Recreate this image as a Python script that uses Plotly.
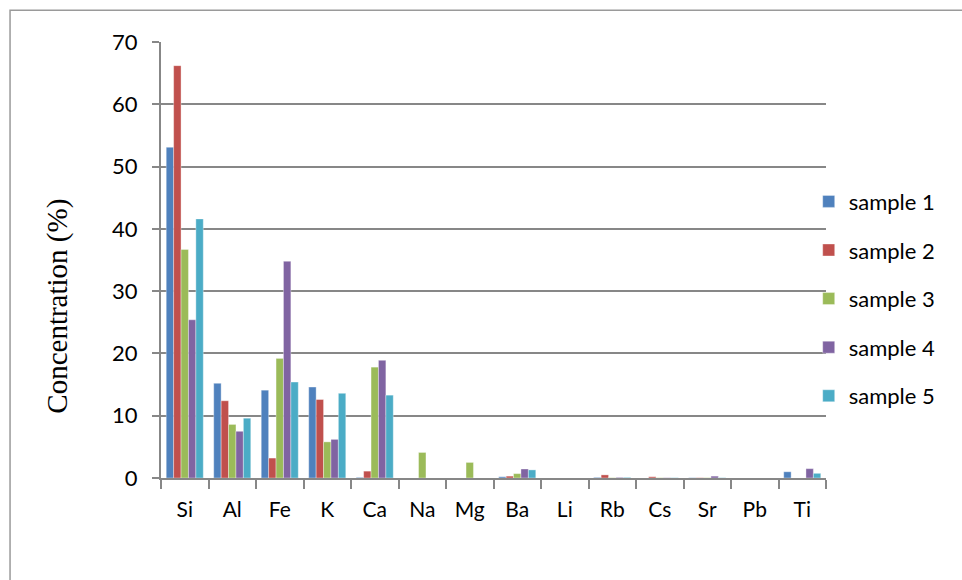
import plotly.graph_objects as go

# Element concentrations (%) per sample
elements = ["Si", "Al", "Fe", "K", "Ca", "Na", "Mg", "Ba", "Li", "Rb", "Cs", "Sr", "Pb", "Ti"]
sample_1 = [53.1, 15.2, 14.1, 14.6, 0.1, 0.0, 0.0, 0.2, 0.0, 0.1, 0.0, 0.05, 0.0, 1.0]
sample_2 = [66.2, 12.4, 3.2, 12.6, 1.1, 0.0, 0.0, 0.3, 0.0, 0.5, 0.2, 0.05, 0.0, 0.0]
sample_3 = [36.7, 8.6, 19.2, 5.8, 17.8, 4.1, 2.5, 0.7, 0.0, 0.05, 0.05, 0.05, 0.0, 0.0]
sample_4 = [25.4, 7.5, 34.8, 6.2, 18.9, 0.0, 0.0, 1.45, 0.0, 0.1, 0.05, 0.3, 0.0, 1.5]
sample_5 = [41.6, 9.6, 15.4, 13.6, 13.3, 0.0, 0.0, 1.3, 0.0, 0.1, 0.05, 0.05, 0.0, 0.75]

series_names = ["sample 1", "sample 2", "sample 3", "sample 4", "sample 5"]
series_values = [sample_1, sample_2, sample_3, sample_4, sample_5]
series_colors = ["#4F81BD", "#C0504D", "#9BBB59", "#8064A2", "#4BACC6"]

y_ticks = [0, 10, 20, 30, 40, 50, 60, 70]

fig = go.Figure()
for i, (name, vals, col) in enumerate(zip(series_names, series_values, series_colors)):
    fig.add_trace(go.Bar(
        x=elements, y=vals, name=name,
        marker=dict(color=col, line=dict(color="rgba(255,255,255,0.6)", width=0.6)),
        legendgroup=f"g{i}",
    ))

grid_col = "#878787"
font_sans = "Lato, 'Open Sans', sans-serif"

fig.update_layout(
    width=962, height=580,
    margin=dict(l=161, r=136, t=42, b=102),
    paper_bgcolor="white", plot_bgcolor="rgba(0,0,0,0)",
    barmode="group", bargap=0.22, bargroupgap=0.0,
    font=dict(family=font_sans, size=21, color="#000000"),
    showlegend=True,
    legend=dict(
        x=0.974, xanchor="left", y=0.4115, yanchor="middle",
        font=dict(family=font_sans, size=22, color="#000000"),
        tracegroupgap=17, bgcolor="rgba(0,0,0,0)",
        itemclick=False,
    ),
    xaxis=dict(
        type="category", showgrid=False,
        showline=True, linecolor=grid_col, linewidth=2,
        ticks="outside", tickson="boundaries", ticklen=9, tickwidth=2, tickcolor=grid_col,
        tickfont=dict(family=font_sans, size=21),
        ticklabelstandoff=12,
    ),
    yaxis=dict(
        range=[0, 70], tickvals=y_ticks,
        showgrid=True, gridcolor=grid_col, gridwidth=2,
        showline=True, linecolor=grid_col, linewidth=2,
        ticks="outside", ticklen=7, tickwidth=2, tickcolor=grid_col,
        tickfont=dict(family=font_sans, size=22),
        ticklabelstandoff=10,
        zeroline=False,
    ),
    shapes=[dict(
        type="rect", xref="paper", yref="paper",
        x0=-0.227, x1=1.4, y0=-0.5, y1=1.0727,
        line=dict(color="#9a9a9a", width=1.5), fillcolor="rgba(0,0,0,0)", layer="below",
    )],
    annotations=[dict(
        text="Concentration (%)", xref="paper", yref="paper",
        x=-0.155, y=0.395, xanchor="center", yanchor="middle",
        textangle=-90, showarrow=False,
        font=dict(family="'Liberation Serif', 'Times New Roman', serif", size=29, color="#000000"),
    )],
)

fig.write_html("out.html")
